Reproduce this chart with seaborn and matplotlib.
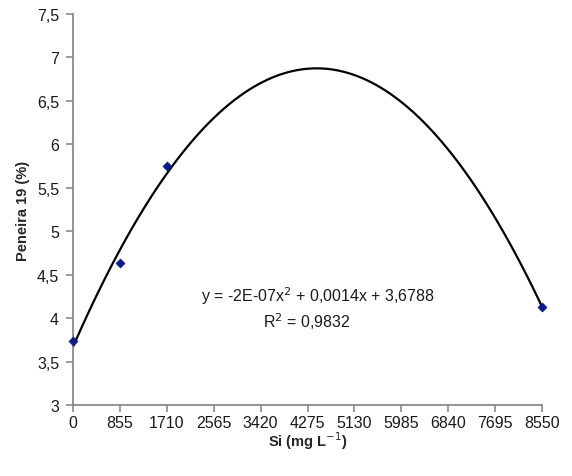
import numpy as np
import pandas as pd
import seaborn as sns
import matplotlib.pyplot as plt

# data
si_dose = [0, 855, 1710, 8550]
peneira19 = [3.74, 4.63, 5.75, 4.13]
x_ticks = [0, 855, 1710, 2565, 3420, 4275, 5130, 5985, 6840, 7695, 8550]
y_ticks = [3, 3.5, 4, 4.5, 5, 5.5, 6, 6.5, 7, 7.5]
equation = "y = -2E-07x$^2$ + 0,0014x + 3,6788"
r2_text = "R$^2$ = 0,9832"

sns.set_style("white")
plt.rcParams["font.family"] = ["Liberation Sans", "DejaVu Sans"]

df = pd.DataFrame({"si": si_dose, "pen": peneira19})

fig = plt.figure(figsize=(5.72, 4.77), dpi=100)
ax = fig.add_axes([73 / 572, 1 - 406 / 477, (542 - 73) / 572, (406 - 15) / 477])

# quadratic trend line (fit of the points), then the points on top
sns.regplot(data=df, x="si", y="pen", order=2, ci=None, scatter=False,
            truncate=True, line_kws={"color": "black", "lw": 1.6}, ax=ax)
sns.scatterplot(data=df, x="si", y="pen", marker="D", s=22, color="#0a1a8c",
                edgecolor="#0a1a8c", zorder=5, clip_on=False, ax=ax)

ax.set_xlim(0, 8550)
ax.set_ylim(3, 7.5)
ax.set_xticks(x_ticks)
ax.set_xticklabels([str(t) for t in x_ticks])
ax.set_yticks(y_ticks)
ax.set_yticklabels([f"{t:g}".replace(".", ",") for t in y_ticks])

for side in ["top", "right"]:
    ax.spines[side].set_visible(False)
for side in ["left", "bottom"]:
    ax.spines[side].set_color("#808080")
    ax.spines[side].set_linewidth(1.2)
ax.tick_params(axis="both", direction="out", length=5, width=1.1, color="#808080",
               labelsize=11.5, labelcolor="#1a1a1a", pad=5)
ax.tick_params(axis="y", left=True)
ax.tick_params(axis="x", bottom=True, pad=2)

ax.set_xlabel("Si (mg L$^{-1}$)", fontsize=10.5, fontweight="bold", labelpad=0)
ax.set_ylabel("Peneira 19 (%)", fontsize=10.5, fontweight="bold", labelpad=5)

ax.text(4470, 4.26, equation, ha="center", va="center", fontsize=11.5, color="#1a1a1a")
ax.text(4270, 3.97, r2_text, ha="center", va="center", fontsize=11.5, color="#1a1a1a")

fig.savefig("out.png", dpi=100)
